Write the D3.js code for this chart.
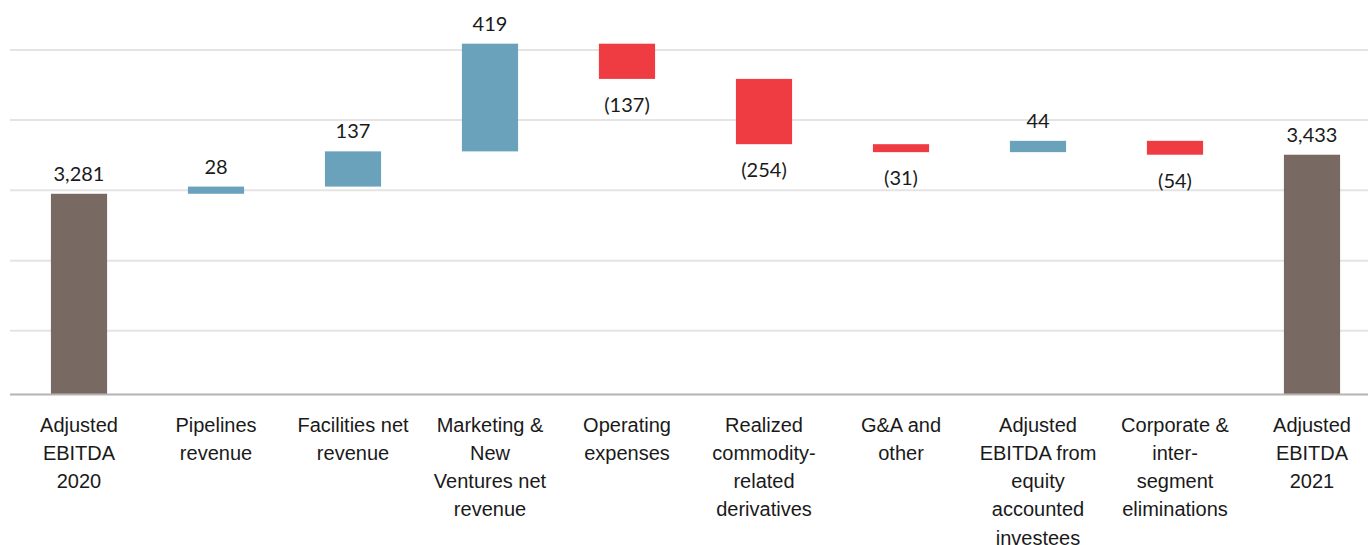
<!DOCTYPE html>
<html>
<head>
<meta charset="utf-8">
<script src="https://cdn.jsdelivr.net/npm/d3@7"></script>
<style>
  body { margin: 0; background: #fff; }
  svg { display: block; font-family: Lato, "Open Sans", sans-serif; }
</style>
</head>
<body>
<svg id="chart"></svg>
<script>
// categories (line breaks as in the picture)
const categories = [
  "Adjusted\nEBITDA\n2020",
  "Pipelines\nrevenue",
  "Facilities net\nrevenue",
  "Marketing &\nNew\nVentures net\nrevenue",
  "Operating\nexpenses",
  "Realized\ncommodity-\nrelated\nderivatives",
  "G&A and\nother",
  "Adjusted\nEBITDA from\nequity\naccounted\ninvestees",
  "Corporate &\ninter-\nsegment\neliminations",
  "Adjusted\nEBITDA\n2021"
];
const values = [3281, 28, 137, 419, -137, -254, -31, 44, -54, 3433];
const kinds = ["total", "delta", "delta", "delta", "delta", "delta", "delta", "delta", "delta", "total"];
const yDomain = [2500, 4000];
const gridValues = [2750, 3022, 3297, 3570, 3842];

const width = 1368, height = 545;
const colors = { total: "#786a63", up: "#6aa2bb", down: "#ef3b42" };

const svg = d3.select("#chart").attr("width", width).attr("height", height);

// running totals -> bar start / end
let run = 0;
const bars = values.map((v, i) => {
  let start, end;
  if (kinds[i] === "total") { start = yDomain[0]; end = v; run = v; }
  else { start = run; end = run + v; run = end; }
  return { cat: categories[i], value: v, kind: kinds[i], start, end };
});

const x = d3.scaleBand()
  .domain(categories)
  .range([10.5, 1380.5])
  .paddingInner(0.59)
  .paddingOuter(0.295);
const y = d3.scaleLinear().domain(yDomain).range([394.5, 9]);

// gridlines
svg.append("g")
  .attr("transform", "translate(10,0)")
  .call(d3.axisLeft(y).tickValues(gridValues).tickSize(-(width - 10)).tickFormat(""))
  .call(g => g.select(".domain").remove())
  .call(g => g.selectAll(".tick line").attr("stroke", "#e4e4e4").attr("stroke-width", 2));

// bars
svg.selectAll("rect.bar")
  .data(bars)
  .enter()
  .append("rect")
  .attr("class", "bar")
  .attr("x", d => x(d.cat))
  .attr("width", x.bandwidth())
  .attr("y", d => y(Math.max(d.start, d.end)))
  .attr("height", d => Math.abs(y(d.start) - y(d.end)))
  .attr("fill", d => d.kind === "total" ? colors.total : (d.value >= 0 ? colors.up : colors.down));

// value labels
const fmt = d3.format(",");
svg.selectAll("text.val")
  .data(bars)
  .enter()
  .append("text")
  .attr("class", "val")
  .attr("x", d => x(d.cat) + x.bandwidth() / 2)
  .attr("y", d => d.value >= 0 ? y(Math.max(d.start, d.end)) - 13 : y(Math.min(d.start, d.end)) + 33)
  .attr("text-anchor", "middle")
  .attr("font-size", 20)
  .attr("fill", "#1a1a1a")
  .text(d => d.value >= 0 ? fmt(d.value) : "(" + fmt(-d.value) + ")");

// x axis with wrapped category labels
const xAxis = svg.append("g")
  .attr("transform", `translate(0,${y(yDomain[0])})`)
  .call(d3.axisBottom(x).tickSize(0).tickFormat(""));
xAxis.select(".domain")
  .attr("d", `M10,0H${width}`)
  .attr("stroke", "#b4b4b4")
  .attr("stroke-width", 2);
xAxis.selectAll(".tick text").remove();
xAxis.selectAll(".tick")
  .append("text")
  .attr("fill", "#1a1a1a")
  .attr("font-size", 20)
  .attr("text-anchor", "middle")
  .each(function (d) {
    const t = d3.select(this);
    d.split("\n").forEach((line, i) => {
      t.append("tspan").attr("x", 0).attr("y", 37 + i * 28.25).text(line);
    });
  });
</script>
</body>
</html>
